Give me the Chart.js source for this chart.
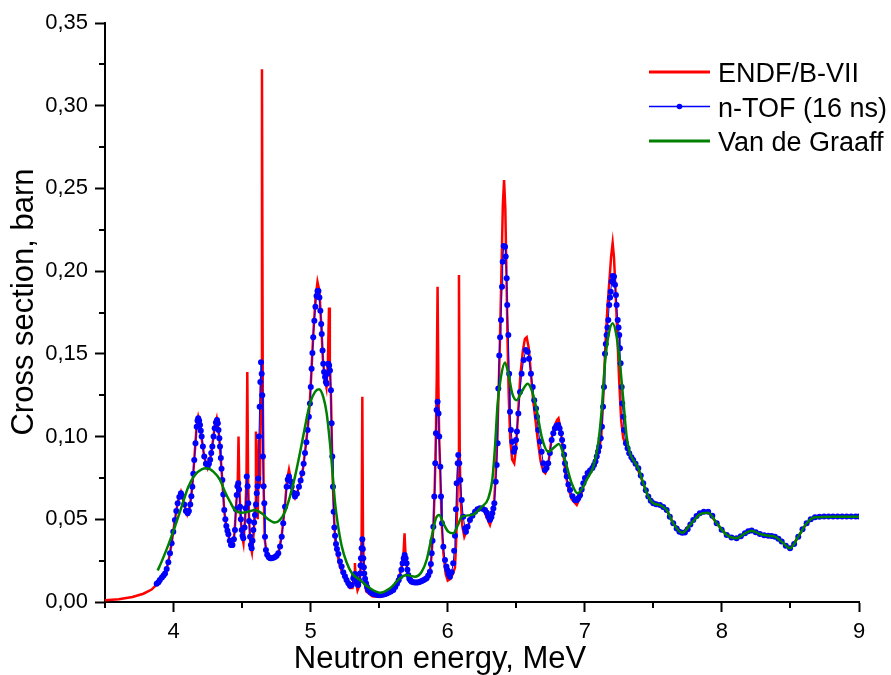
<!DOCTYPE html>
<html>
<head>
<meta charset="utf-8">
<script src="https://cdn.jsdelivr.net/npm/chart.js@4.4.1/dist/chart.umd.min.js"></script>
<style>
  html, body { margin: 0; padding: 0; background: #fff; }
  #wrap { width: 891px; height: 675px; }
</style>
</head>
<body>
<div id="wrap"><canvas id="grafico" width="891" height="675"></canvas></div>
<script>
// - ENDF/B-VII

const endfE = [
  3.500, 3.600, 3.700, 3.780, 3.840, 3.880, 3.900, 3.938, 3.962, 3.986, 4.010, 4.030, 4.054, 4.078, 4.100,
  4.120, 4.137, 4.151, 4.169, 4.180, 4.193, 4.205, 4.224, 4.249, 4.267, 4.283, 4.300, 4.315, 4.328, 4.339,
  4.356, 4.370, 4.385, 4.400, 4.419, 4.432, 4.445, 4.458, 4.468, 4.474, 4.480, 4.490, 4.500, 4.510, 4.522,
  4.532, 4.538, 4.544, 4.552, 4.562, 4.572, 4.585, 4.595, 4.601, 4.607, 4.614, 4.622, 4.630, 4.638, 4.645,
  4.651, 4.657, 4.665, 4.680, 4.710, 4.740, 4.764, 4.789, 4.813, 4.828, 4.842, 4.858, 4.872, 4.886, 4.905,
  4.927, 4.945, 4.962, 4.980, 4.995, 5.008, 5.020, 5.035, 5.050, 5.064, 5.077, 5.090, 5.102, 5.115, 5.126,
  5.134, 5.140, 5.148, 5.155, 5.162, 5.170, 5.180, 5.195, 5.214, 5.250, 5.287, 5.305, 5.317, 5.323, 5.329,
  5.342, 5.356, 5.366, 5.372, 5.377, 5.382, 5.390, 5.405, 5.450, 5.506, 5.560, 5.603, 5.642, 5.665, 5.678,
  5.685, 5.692, 5.705, 5.720, 5.750, 5.800, 5.846, 5.870, 5.883, 5.895, 5.905, 5.914, 5.920, 5.926, 5.932,
  5.938, 5.946, 5.955, 5.968, 5.985, 6.000, 6.020, 6.040, 6.053, 6.062, 6.070, 6.076, 6.082, 6.088, 6.096,
  6.106, 6.121, 6.140, 6.165, 6.200, 6.235, 6.265, 6.290, 6.308, 6.325, 6.340, 6.352, 6.362, 6.372, 6.382,
  6.392, 6.402, 6.411, 6.420, 6.428, 6.436, 6.445, 6.456, 6.470, 6.485, 6.497, 6.510, 6.530, 6.548, 6.563,
  6.576, 6.590, 6.605, 6.622, 6.640, 6.658, 6.678, 6.697, 6.712, 6.733, 6.758, 6.782, 6.798, 6.808, 6.822,
  6.840, 6.858, 6.880, 6.905, 6.941, 6.965, 6.990, 7.020, 7.055, 7.085, 7.105, 7.120, 7.135, 7.150, 7.165,
  7.180, 7.192, 7.203, 7.213, 7.224, 7.236, 7.250, 7.265, 7.280, 7.300, 7.330, 7.370, 7.426, 7.463, 7.499,
  7.548, 7.597, 7.645, 7.710, 7.770, 7.839, 7.900, 7.962, 8.035, 8.107, 8.168, 8.217, 8.277, 8.338, 8.387,
  8.436, 8.497, 8.557, 8.618, 8.679, 8.750, 9.000
];
const endfXS = [
  0.0010, 0.0017, 0.0030, 0.0050, 0.0075, 0.0108, 0.0130, 0.0173, 0.0240, 0.0355, 0.0496, 0.0600, 0.0665, 0.0590, 0.0530,
  0.0580, 0.0700, 0.0860, 0.1070, 0.1120, 0.1075, 0.0990, 0.0875, 0.0810, 0.0860, 0.0945, 0.1060, 0.1110, 0.1040, 0.0930,
  0.0730, 0.0550, 0.0450, 0.0405, 0.0335, 0.0335, 0.0420, 0.0600, 0.0700, 0.1000, 0.0690, 0.0500, 0.0400, 0.0355, 0.0500,
  0.0740, 0.1390, 0.0720, 0.0480, 0.0340, 0.0300, 0.0420, 0.0600, 0.1030, 0.0640, 0.0500, 0.0980, 0.0700, 0.1350, 0.3220,
  0.1250, 0.0700, 0.0380, 0.0285, 0.0260, 0.0270, 0.0290, 0.0400, 0.0590, 0.0740, 0.0800, 0.0730, 0.0660, 0.0630, 0.0670,
  0.0735, 0.0810, 0.0930, 0.1060, 0.1220, 0.1430, 0.1630, 0.1830, 0.1935, 0.1880, 0.1680, 0.1460, 0.1360, 0.1300, 0.1450,
  0.1780, 0.1450, 0.1250, 0.0960, 0.0720, 0.0520, 0.0370, 0.0290, 0.0215, 0.0140, 0.0085, 0.0085, 0.0150, 0.0235, 0.0130,
  0.0070, 0.0100, 0.0220, 0.0400, 0.1240, 0.0380, 0.0150, 0.0065, 0.0035, 0.0030, 0.0045, 0.0072, 0.0130, 0.0220, 0.0300,
  0.0415, 0.0290, 0.0190, 0.0140, 0.0118, 0.0120, 0.0140, 0.0180, 0.0290, 0.0455, 0.0680, 0.1020, 0.1350, 0.1906, 0.1300,
  0.0980, 0.0780, 0.0500, 0.0300, 0.0170, 0.0130, 0.0140, 0.0175, 0.0210, 0.0380, 0.0620, 0.0860, 0.1977, 0.0850, 0.0600,
  0.0460, 0.0395, 0.0435, 0.0500, 0.0550, 0.0566, 0.0552, 0.0500, 0.0466, 0.0520, 0.0620, 0.0800, 0.1000, 0.1300, 0.1620,
  0.2000, 0.2400, 0.2550, 0.2380, 0.2000, 0.1600, 0.1250, 0.0980, 0.0860, 0.0838, 0.0920, 0.1100, 0.1370, 0.1520, 0.1590,
  0.1600, 0.1540, 0.1400, 0.1230, 0.1100, 0.0970, 0.0850, 0.0790, 0.0778, 0.0830, 0.0990, 0.1070, 0.1100, 0.1110, 0.1050,
  0.0930, 0.0780, 0.0690, 0.0620, 0.0586, 0.0630, 0.0700, 0.0770, 0.0810, 0.0860, 0.0920, 0.1000, 0.1250, 0.1550, 0.1780,
  0.1950, 0.2090, 0.2170, 0.2080, 0.1880, 0.1640, 0.1350, 0.1100, 0.0990, 0.0950, 0.0890, 0.0835, 0.0718, 0.0637, 0.0597,
  0.0586, 0.0556, 0.0476, 0.0415, 0.0470, 0.0536, 0.0546, 0.0476, 0.0405, 0.0385, 0.0415, 0.0432, 0.0411, 0.0401, 0.0395,
  0.0365, 0.0320, 0.0395, 0.0476, 0.0512, 0.0517, 0.0517
];

// - n-TOF (16 ns)

const tofE = [
  3.877, 3.890, 3.900, 3.915, 3.927, 3.938, 3.950, 3.962, 3.974, 3.986, 3.998, 4.010, 4.020, 4.030, 4.042,
  4.054, 4.066, 4.078, 4.090, 4.103, 4.112, 4.122, 4.130, 4.137, 4.144, 4.151, 4.160, 4.169, 4.175, 4.180,
  4.187, 4.193, 4.199, 4.205, 4.214, 4.224, 4.236, 4.249, 4.258, 4.267, 4.275, 4.283, 4.292, 4.300, 4.309,
  4.317, 4.323, 4.328, 4.334, 4.339, 4.345, 4.350, 4.356, 4.363, 4.370, 4.378, 4.385, 4.393, 4.400, 4.410,
  4.419, 4.430, 4.440, 4.448, 4.455, 4.461, 4.466, 4.472, 4.478, 4.485, 4.491, 4.497, 4.503, 4.509, 4.518,
  4.526, 4.534, 4.540, 4.545, 4.551, 4.558, 4.564, 4.570, 4.576, 4.582, 4.588, 4.594, 4.601, 4.607, 4.613,
  4.618, 4.623, 4.628, 4.633, 4.638, 4.643, 4.647, 4.652, 4.657, 4.662, 4.667, 4.674, 4.683, 4.695, 4.705,
  4.716, 4.728, 4.740, 4.752, 4.764, 4.777, 4.789, 4.800, 4.813, 4.825, 4.833, 4.842, 4.852, 4.862, 4.874,
  4.886, 4.900, 4.915, 4.927, 4.939, 4.949, 4.959, 4.969, 4.978, 4.987, 4.995, 5.001, 5.007, 5.013, 5.019,
  5.027, 5.035, 5.043, 5.050, 5.057, 5.064, 5.071, 5.077, 5.081, 5.087, 5.092, 5.098, 5.105, 5.111, 5.117,
  5.123, 5.129, 5.135, 5.141, 5.148, 5.153, 5.158, 5.163, 5.168, 5.173, 5.178, 5.185, 5.192, 5.202, 5.214,
  5.226, 5.238, 5.250, 5.262, 5.275, 5.287, 5.300, 5.311, 5.317, 5.323, 5.329, 5.335, 5.341, 5.347, 5.354,
  5.360, 5.364, 5.367, 5.372, 5.377, 5.381, 5.384, 5.388, 5.391, 5.397, 5.404, 5.412, 5.420, 5.435, 5.450,
  5.465, 5.480, 5.495, 5.510, 5.525, 5.540, 5.555, 5.570, 5.585, 5.603, 5.617, 5.630, 5.642, 5.652, 5.662,
  5.671, 5.679, 5.686, 5.693, 5.700, 5.706, 5.712, 5.720, 5.729, 5.737, 5.750, 5.762, 5.775, 5.787, 5.798,
  5.810, 5.822, 5.834, 5.846, 5.858, 5.870, 5.877, 5.883, 5.889, 5.895, 5.902, 5.909, 5.914, 5.919, 5.926,
  5.933, 5.938, 5.946, 5.951, 5.958, 5.968, 5.980, 5.990, 5.997, 6.006, 6.016, 6.028, 6.040, 6.047, 6.053,
  6.060, 6.065, 6.073, 6.077, 6.084, 6.092, 6.102, 6.113, 6.126, 6.133, 6.145, 6.162, 6.180, 6.199, 6.217,
  6.235, 6.254, 6.272, 6.285, 6.296, 6.308, 6.318, 6.325, 6.333, 6.340, 6.350, 6.357, 6.364, 6.369, 6.376,
  6.382, 6.388, 6.396, 6.401, 6.408, 6.418, 6.423, 6.430, 6.434, 6.442, 6.448, 6.454, 6.461, 6.471, 6.481,
  6.490, 6.498, 6.505, 6.515, 6.527, 6.539, 6.554, 6.569, 6.583, 6.593, 6.607, 6.620, 6.631, 6.644, 6.651,
  6.660, 6.673, 6.685, 6.697, 6.709, 6.721, 6.733, 6.745, 6.758, 6.770, 6.782, 6.794, 6.806, 6.816, 6.826,
  6.834, 6.843, 6.849, 6.855, 6.862, 6.868, 6.880, 6.892, 6.910, 6.928, 6.940, 6.952, 6.965, 6.977, 6.989,
  7.001, 7.020, 7.038, 7.055, 7.067, 7.078, 7.087, 7.097, 7.105, 7.116, 7.125, 7.133, 7.140, 7.147, 7.153,
  7.159, 7.165, 7.171, 7.178, 7.184, 7.189, 7.196, 7.203, 7.213, 7.220, 7.227, 7.232, 7.240, 7.246, 7.251,
  7.256, 7.261, 7.269, 7.273, 7.281, 7.286, 7.300, 7.312, 7.324, 7.340, 7.353, 7.370, 7.390, 7.408, 7.426,
  7.445, 7.463, 7.481, 7.499, 7.520, 7.548, 7.572, 7.597, 7.620, 7.645, 7.670, 7.690, 7.710, 7.730, 7.750,
  7.770, 7.791, 7.815, 7.839, 7.868, 7.900, 7.930, 7.962, 7.998, 8.035, 8.070, 8.107, 8.138, 8.168, 8.192,
  8.217, 8.247, 8.277, 8.308, 8.338, 8.362, 8.387, 8.412, 8.436, 8.466, 8.497, 8.527, 8.557, 8.588, 8.618,
  8.648, 8.679, 8.712, 8.745, 8.778, 8.811, 8.844, 8.877, 8.910, 8.943, 8.976, 9.000
];
const tofXS = [
  0.0110, 0.0120, 0.0133, 0.0148, 0.0160, 0.0173, 0.0200, 0.0240, 0.0295, 0.0355, 0.0425, 0.0496, 0.0550, 0.0597, 0.0635,
  0.0657, 0.0640, 0.0590, 0.0550, 0.0536, 0.0550, 0.0590, 0.0640, 0.0697, 0.0775, 0.0858, 0.0960, 0.1060, 0.1095, 0.1110,
  0.1095, 0.1070, 0.1035, 0.1000, 0.0940, 0.0880, 0.0835, 0.0818, 0.0835, 0.0860, 0.0900, 0.0940, 0.1000, 0.1050, 0.1085,
  0.1100, 0.1080, 0.1040, 0.0990, 0.0940, 0.0870, 0.0805, 0.0738, 0.0650, 0.0556, 0.0500, 0.0460, 0.0430, 0.0410, 0.0370,
  0.0345, 0.0345, 0.0380, 0.0435, 0.0560, 0.0647, 0.0700, 0.0718, 0.0680, 0.0576, 0.0500, 0.0435, 0.0400, 0.0385, 0.0450,
  0.0566, 0.0758, 0.0700, 0.0597, 0.0490, 0.0395, 0.0345, 0.0325, 0.0370, 0.0435, 0.0480, 0.0526, 0.0590, 0.0657, 0.0700,
  0.0747, 0.1000, 0.1180, 0.1330, 0.1450, 0.1380, 0.1250, 0.0880, 0.0700, 0.0597, 0.0395, 0.0314, 0.0285, 0.0270, 0.0265,
  0.0264, 0.0267, 0.0272, 0.0280, 0.0294, 0.0335, 0.0395, 0.0476, 0.0576, 0.0697, 0.0740, 0.0758, 0.0730, 0.0697, 0.0660,
  0.0637, 0.0655, 0.0697, 0.0735, 0.0778, 0.0835, 0.0900, 0.0965, 0.1040, 0.1120, 0.1200, 0.1300, 0.1410, 0.1505, 0.1600,
  0.1700, 0.1785, 0.1850, 0.1880, 0.1880, 0.1840, 0.1760, 0.1680, 0.1620, 0.1520, 0.1440, 0.1390, 0.1360, 0.1330, 0.1320,
  0.1380, 0.1440, 0.1430, 0.1400, 0.1280, 0.1080, 0.0880, 0.0697, 0.0546, 0.0450, 0.0400, 0.0350, 0.0320, 0.0290, 0.0245,
  0.0215, 0.0180, 0.0155, 0.0133, 0.0113, 0.0098, 0.0103, 0.0143, 0.0160, 0.0170, 0.0150, 0.0123, 0.0110, 0.0103, 0.0130,
  0.0173, 0.0220, 0.0264, 0.0325, 0.0380, 0.0320, 0.0264, 0.0210, 0.0173, 0.0140, 0.0113, 0.0090, 0.0073, 0.0060, 0.0052,
  0.0047, 0.0044, 0.0042, 0.0042, 0.0044, 0.0047, 0.0052, 0.0057, 0.0064, 0.0073, 0.0090, 0.0110, 0.0132, 0.0153, 0.0195,
  0.0234, 0.0265, 0.0284, 0.0265, 0.0234, 0.0195, 0.0163, 0.0140, 0.0130, 0.0123, 0.0120, 0.0118, 0.0118, 0.0120, 0.0123,
  0.0127, 0.0132, 0.0137, 0.0143, 0.0160, 0.0183, 0.0230, 0.0294, 0.0370, 0.0455, 0.0637, 0.0838, 0.1020, 0.1160, 0.1210,
  0.1140, 0.1000, 0.0818, 0.0637, 0.0476, 0.0334, 0.0254, 0.0215, 0.0193, 0.0170, 0.0153, 0.0180, 0.0234, 0.0310, 0.0400,
  0.0560, 0.0718, 0.0838, 0.0889, 0.0838, 0.0738, 0.0617, 0.0516, 0.0446, 0.0425, 0.0455, 0.0496, 0.0522, 0.0546, 0.0560,
  0.0566, 0.0563, 0.0556, 0.0540, 0.0516, 0.0496, 0.0512, 0.0536, 0.0565, 0.0597, 0.0727, 0.0828, 0.0960, 0.1290, 0.1490,
  0.1600, 0.1705, 0.1906, 0.2057, 0.2152, 0.2148, 0.2088, 0.1957, 0.1796, 0.1614, 0.1380, 0.1150, 0.1040, 0.0969, 0.0909,
  0.0929, 0.0980, 0.1030, 0.1140, 0.1270, 0.1380, 0.1463, 0.1524, 0.1513, 0.1470, 0.1380, 0.1300, 0.1220, 0.1170, 0.1120,
  0.1040, 0.0970, 0.0909, 0.0838, 0.0798, 0.0810, 0.0838, 0.0900, 0.0980, 0.1020, 0.1050, 0.1065, 0.1070, 0.1050, 0.1020,
  0.0980, 0.0939, 0.0890, 0.0838, 0.0795, 0.0758, 0.0710, 0.0677, 0.0640, 0.0617, 0.0615, 0.0627, 0.0645, 0.0680, 0.0718,
  0.0750, 0.0780, 0.0795, 0.0810, 0.0828, 0.0850, 0.0879, 0.0910, 0.0939, 0.0990, 0.1060, 0.1180, 0.1300, 0.1500, 0.1560,
  0.1614, 0.1660, 0.1705, 0.1796, 0.1840, 0.1876, 0.1937, 0.1970, 0.1967, 0.1917, 0.1856, 0.1796, 0.1705, 0.1660, 0.1614,
  0.1534, 0.1443, 0.1300, 0.1200, 0.1120, 0.1040, 0.0960, 0.0930, 0.0899, 0.0875, 0.0859, 0.0835, 0.0808, 0.0765, 0.0718,
  0.0675, 0.0637, 0.0612, 0.0597, 0.0591, 0.0586, 0.0574, 0.0556, 0.0515, 0.0476, 0.0445, 0.0425, 0.0418, 0.0420, 0.0440,
  0.0468, 0.0496, 0.0520, 0.0536, 0.0546, 0.0546, 0.0522, 0.0476, 0.0436, 0.0405, 0.0390, 0.0385, 0.0398, 0.0415, 0.0427,
  0.0432, 0.0422, 0.0411, 0.0404, 0.0401, 0.0399, 0.0395, 0.0382, 0.0365, 0.0340, 0.0325, 0.0350, 0.0395, 0.0440, 0.0476,
  0.0500, 0.0512, 0.0516, 0.0517, 0.0517, 0.0517, 0.0517, 0.0517, 0.0517, 0.0517, 0.0517, 0.0517
];

// - Van de Graaff

const vdgE = [
  3.884, 3.913, 3.962, 4.010, 4.059, 4.108, 4.156, 4.205, 4.242, 4.290, 4.339, 4.375, 4.412, 4.448, 4.497,
  4.545, 4.594, 4.643, 4.691, 4.740, 4.776, 4.813, 4.849, 4.886, 4.922, 4.959, 4.995, 5.032, 5.061, 5.092,
  5.117, 5.141, 5.158, 5.178, 5.202, 5.226, 5.262, 5.300, 5.360, 5.433, 5.506, 5.579, 5.652, 5.700, 5.761,
  5.810, 5.846, 5.883, 5.914, 5.938, 5.968, 6.004, 6.040, 6.077, 6.102, 6.175, 6.248, 6.296, 6.325, 6.345,
  6.364, 6.388, 6.418, 6.442, 6.471, 6.503, 6.539, 6.583, 6.617, 6.649, 6.685, 6.733, 6.782, 6.811, 6.855,
  6.904, 6.948, 6.989, 7.013, 7.062, 7.098, 7.123, 7.147, 7.171, 7.203, 7.232, 7.256, 7.281, 7.305, 7.329,
  7.353, 7.390, 7.426, 7.463, 7.499, 7.548, 7.597, 7.645, 7.710, 7.770, 7.839, 7.900, 7.962, 8.035, 8.107,
  8.168, 8.217, 8.277, 8.338, 8.387, 8.436, 8.497, 8.557, 8.618, 8.679, 8.812, 9.000
];
const vdgXS = [
  0.0190, 0.0244, 0.0345, 0.0455, 0.0576, 0.0697, 0.0768, 0.0802, 0.0808, 0.0788, 0.0738, 0.0667, 0.0606, 0.0556, 0.0540,
  0.0546, 0.0556, 0.0536, 0.0500, 0.0480, 0.0496, 0.0546, 0.0637, 0.0758, 0.0900, 0.1060, 0.1200, 0.1270, 0.1286, 0.1240,
  0.1140, 0.0960, 0.0800, 0.0600, 0.0450, 0.0340, 0.0240, 0.0175, 0.0133, 0.0083, 0.0056, 0.0083, 0.0143, 0.0163, 0.0153,
  0.0183, 0.0254, 0.0395, 0.0506, 0.0526, 0.0476, 0.0425, 0.0415, 0.0470, 0.0516, 0.0526, 0.0576, 0.0627, 0.0738, 0.0939,
  0.1200, 0.1360, 0.1447, 0.1380, 0.1260, 0.1220, 0.1270, 0.1320, 0.1270, 0.1160, 0.1000, 0.0909, 0.0939, 0.0955, 0.0859,
  0.0718, 0.0657, 0.0697, 0.0738, 0.0818, 0.0960, 0.1160, 0.1443, 0.1604, 0.1685, 0.1604, 0.1443, 0.1220, 0.1000, 0.0899,
  0.0859, 0.0808, 0.0718, 0.0637, 0.0597, 0.0586, 0.0556, 0.0476, 0.0418, 0.0468, 0.0530, 0.0540, 0.0476, 0.0405, 0.0385,
  0.0415, 0.0431, 0.0411, 0.0401, 0.0395, 0.0365, 0.0325, 0.0395, 0.0476, 0.0512, 0.0516, 0.0516
];

// - Eixos

const xMajor = [4, 5, 6, 7, 8, 9];
const xMinor = [3.5, 4.5, 5.5, 6.5, 7.5, 8.5];
const yMajor = [0, 0.05, 0.10, 0.15, 0.20, 0.25, 0.30, 0.35];
const yMinor = [0.025, 0.075, 0.125, 0.175, 0.225, 0.275, 0.325];

const pts = (xs, ys) => xs.map((x, i) => ({ x: x, y: ys[i] }));

Chart.defaults.font.family = '"Liberation Sans", Arial, sans-serif';
Chart.defaults.color = '#000';

const extras = {
  id: 'extras',
  afterDraw(chart) {
    const ctx = chart.ctx;
    const xs = chart.scales.x;
    const ys = chart.scales.y;
    const area = chart.chartArea;
    ctx.save();
    ctx.strokeStyle = '#000';
    ctx.lineWidth = 2;
    // minor ticks
    xMinor.forEach(v => {
      const px = Math.round(xs.getPixelForValue(v));
      ctx.beginPath(); ctx.moveTo(px, area.bottom); ctx.lineTo(px, area.bottom + 6); ctx.stroke();
    });
    yMinor.forEach(v => {
      const py = Math.round(ys.getPixelForValue(v));
      ctx.beginPath(); ctx.moveTo(area.left, py); ctx.lineTo(area.left - 6, py); ctx.stroke();
    });

    // titulos dos eixos
    ctx.fillStyle = '#000';
    ctx.font = '31px "Liberation Sans", Arial, sans-serif';
    ctx.textAlign = 'center';
    ctx.textBaseline = 'middle';
    ctx.fillText('Neutron energy, MeV', 440, 659);
    ctx.save();
    ctx.translate(24, 302);
    ctx.rotate(-Math.PI / 2);
    ctx.fillText('Cross section, barn', 0, 0);
    ctx.restore();

    // legenda
    ctx.font = '27px "Liberation Sans", Arial, sans-serif';
    ctx.textAlign = 'left';
    ctx.textBaseline = 'alphabetic';
    chart.data.datasets.forEach((ds, i) => {
      const y = 72 + i * 34.5;
      ctx.strokeStyle = ds.borderColor;
      ctx.lineWidth = ds.pointRadius > 0 ? 1.5 : 3;
      ctx.beginPath(); ctx.moveTo(649, y); ctx.lineTo(710, y); ctx.stroke();
      if (ds.pointRadius > 0) {
        ctx.fillStyle = ds.borderColor;
        ctx.beginPath(); ctx.arc(679.5, y, 2.8, 0, Math.PI * 2); ctx.fill();
      }
      ctx.fillStyle = '#000';
      ctx.fillText(ds.label, 718, y + 10);
    });
    ctx.restore();
  }
};

const config = {
  type: 'line',
  data: {
    datasets: [{
      label: 'ENDF/B-VII',
      data: pts(endfE, endfXS),
      borderColor: '#FF0000',
      borderWidth: 2.5,
      pointRadius: 0,
      order: 3
    },
    {
      label: 'n-TOF (16 ns)',
      data: pts(tofE, tofXS),
      borderColor: '#0000FF',
      backgroundColor: '#0000FF',
      borderWidth: 1,
      pointRadius: 3,
      pointBorderWidth: 0,
      pointBackgroundColor: '#0000FF',
      order: 2
    },
    {
      label: 'Van de Graaff',
      data: pts(vdgE, vdgXS),
      borderColor: '#008000',
      borderWidth: 2.5,
      pointRadius: 0,
      cubicInterpolationMode: 'monotone',
      order: 1
    }]
  },
  options: {
    responsive: false,
    animation: false,
    events: [],
    devicePixelRatio: 1,
    layout: { padding: { left: 0, right: 32, top: 23, bottom: 0 } },
    plugins: {
      legend: { display: false },
      tooltip: { enabled: false }
    },
    scales: {
      x: {
        type: 'linear',
        min: 3.5,
        max: 9,
        afterFit: (scale) => { scale.height = 73; },
        afterBuildTicks: (scale) => { scale.ticks = xMajor.map(v => ({ value: v })); },
        border: { display: true, color: '#000', width: 2 },
        grid: { drawOnChartArea: false, drawTicks: true, tickLength: 10, tickColor: '#000', tickWidth: 2 },
        ticks: { font: { size: 22 }, padding: 7, maxRotation: 0, callback: (v) => String(v) }
      },
      y: {
        type: 'linear',
        min: 0,
        max: 0.35,
        afterFit: (scale) => { scale.width = 105; },
        afterBuildTicks: (scale) => { scale.ticks = yMajor.map(v => ({ value: v })); },
        border: { display: true, color: '#000', width: 2 },
        grid: { drawOnChartArea: false, drawTicks: true, tickLength: 10, tickColor: '#000', tickWidth: 2 },
        ticks: { font: { size: 22 }, padding: 7, callback: (v) => v.toFixed(2).replace('.', ',') }
      }
    }
  },
  plugins: [extras]
};

const grafico = new Chart(document.getElementById('grafico'), config);
</script>
</body>
</html>
